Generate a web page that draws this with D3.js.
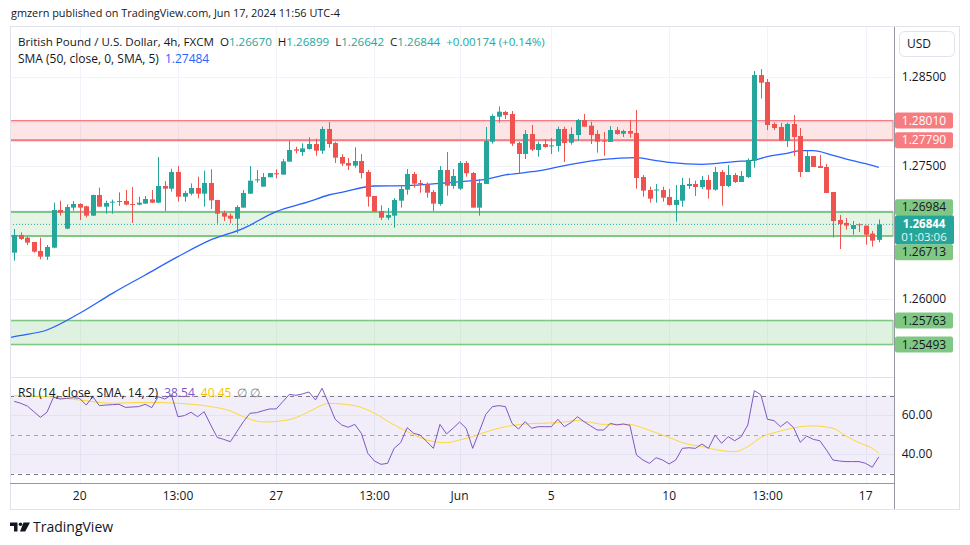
<!DOCTYPE html>
<html>
<head>
<meta charset="utf-8">
<script src="https://cdn.jsdelivr.net/npm/d3@7"></script>
<style>
  body { margin: 0; background: #fff; }
  svg { display: block; font-family: "Open Sans", "Noto Sans", sans-serif; }
</style>
</head>
<body>
<svg id="chart" width="970" height="545"></svg>
<script>
// GBPUSD 4h candles
const opens = [
  1.26526,1.26725,1.26695,1.26646,1.26545,1.26481,1.26582,1.27006,1.26796,1.27032,
  1.27073,1.27047,1.26942,1.27174,1.27043,1.27088,1.27099,1.27107,1.27073,1.27066,
  1.27077,1.27125,1.27088,1.27275,1.27245,1.27433,1.27155,1.27189,1.27253,1.27189,
  1.27309,1.27118,1.26972,1.26942,1.26908,1.27032,1.27189,1.27343,1.27268,1.27373,
  1.27418,1.27403,1.27549,1.27687,1.27657,1.27691,1.27747,1.27672,1.27916,1.27758,
  1.27601,1.27534,1.27504,1.27556,1.27433,1.27163,1.26994,1.26919,1.26942,1.27110,
  1.27234,1.27410,1.27309,1.27298,1.27208,1.27073,1.27455,1.27275,1.27245,1.27534,
  1.27421,1.27032,1.27298,1.27773,1.28054,1.28107,1.28084,1.27758,1.27635,1.27860,
  1.27680,1.27747,1.27725,1.27725,1.27916,1.27762,1.27848,1.28017,1.27953,1.27860,
  1.27785,1.27770,1.27904,1.27863,1.27893,1.27871,1.27376,1.27230,1.27230,1.27230,
  1.27152,1.27062,1.27110,1.27275,1.27298,1.27264,1.27343,1.27234,1.27433,1.27275,
  1.27399,1.27320,1.27376,1.27560,1.28522,1.28444,1.27972,1.27938,1.27781,1.27972,
  1.27837,1.27433,1.27612,1.27500,1.27489,1.27208,1.26893,1.26860,1.26792,1.26845,
  1.26830,1.26740,1.26670
];
const highs = [
  1.26792,1.26755,1.26706,1.26646,1.26695,1.26612,1.27088,1.27110,1.27069,1.27107,
  1.27081,1.27054,1.27178,1.27257,1.27110,1.27122,1.27204,1.27230,1.27264,1.27155,
  1.27163,1.27230,1.27601,1.27331,1.27470,1.27500,1.27219,1.27305,1.27380,1.27448,
  1.27463,1.27118,1.26998,1.26968,1.27058,1.27230,1.27500,1.27455,1.27421,1.27421,
  1.27463,1.27579,1.27781,1.27717,1.27755,1.27822,1.27807,1.27942,1.27994,1.27773,
  1.27631,1.27590,1.27710,1.27635,1.27455,1.27163,1.27058,1.27028,1.27140,1.27275,
  1.27466,1.27433,1.27343,1.27316,1.27230,1.27500,1.27657,1.27466,1.27556,1.27556,
  1.27433,1.27354,1.27938,1.28081,1.28170,1.28118,1.28118,1.27773,1.27904,1.27961,
  1.27773,1.27803,1.27815,1.27942,1.27942,1.27934,1.28028,1.28084,1.27998,1.27904,
  1.27882,1.27949,1.27938,1.27908,1.28017,1.28129,1.27399,1.27268,1.27298,1.27268,
  1.27242,1.27287,1.27365,1.27365,1.27335,1.27388,1.27399,1.27489,1.27455,1.27511,
  1.27421,1.27444,1.27586,1.28567,1.28590,1.28478,1.27991,1.27983,1.27987,1.28073,
  1.27927,1.27669,1.27612,1.27624,1.27522,1.27208,1.26949,1.26916,1.26882,1.26856,
  1.26830,1.26770,1.26899
];
const lows = [
  1.26436,1.26669,1.26612,1.26526,1.26451,1.26444,1.26575,1.26942,1.26790,1.26998,
  1.26893,1.26923,1.26938,1.27040,1.26964,1.26964,1.27051,1.27058,1.26860,1.27058,
  1.27073,1.27085,1.27081,1.26994,1.27212,1.27099,1.27099,1.27170,1.27137,1.27043,
  1.27017,1.26852,1.26882,1.26856,1.26743,1.27032,1.27189,1.27313,1.27268,1.27373,
  1.27361,1.27403,1.27549,1.27642,1.27612,1.27684,1.27616,1.27635,1.27706,1.27534,
  1.27500,1.27455,1.27481,1.27361,1.27043,1.26987,1.26893,1.26893,1.26807,1.27032,
  1.27178,1.27257,1.27200,1.27144,1.26994,1.27054,1.27167,1.27245,1.27230,1.27380,
  1.27032,1.26942,1.27298,1.27751,1.27987,1.28028,1.27725,1.27418,1.27579,1.27669,
  1.27605,1.27706,1.27635,1.27661,1.27545,1.27740,1.27785,1.27942,1.27747,1.27650,
  1.27616,1.27770,1.27852,1.27826,1.27818,1.27245,1.27155,1.27088,1.27088,1.27099,
  1.27054,1.26875,1.27043,1.27242,1.27163,1.27242,1.27133,1.27223,1.27054,1.27264,
  1.27309,1.27320,1.27365,1.27481,1.28257,1.27904,1.27904,1.27785,1.27713,1.27612,
  1.27376,1.27433,1.27489,1.27478,1.27197,1.26695,1.26567,1.26785,1.26728,1.26758,
  1.26616,1.26594,1.26642
];
const closes = [
  1.26725,1.26680,1.26639,1.26537,1.26481,1.26590,1.27006,1.26976,1.27039,1.27073,
  1.27032,1.26942,1.27174,1.27043,1.27084,1.27099,1.27107,1.27066,1.27066,1.27088,
  1.27129,1.27088,1.27275,1.27245,1.27433,1.27155,1.27197,1.27253,1.27189,1.27309,
  1.27114,1.26964,1.26931,1.26908,1.27039,1.27197,1.27335,1.27350,1.27376,1.27421,
  1.27406,1.27552,1.27680,1.27672,1.27698,1.27747,1.27672,1.27916,1.27747,1.27594,
  1.27526,1.27504,1.27556,1.27421,1.27155,1.26987,1.26919,1.26949,1.27118,1.27242,
  1.27410,1.27301,1.27298,1.27200,1.27077,1.27455,1.27279,1.27388,1.27534,1.27418,
  1.27032,1.27309,1.27781,1.28062,1.28110,1.28073,1.27751,1.27635,1.27860,1.27684,
  1.27747,1.27713,1.27732,1.27916,1.27758,1.27860,1.28017,1.27942,1.27848,1.27773,
  1.27778,1.27904,1.27860,1.27893,1.27863,1.27365,1.27223,1.27133,1.27236,1.27144,
  1.27062,1.27118,1.27287,1.27298,1.27264,1.27343,1.27234,1.27433,1.27275,1.27399,
  1.27320,1.27388,1.27567,1.28522,1.28436,1.27961,1.27927,1.27785,1.27972,1.27826,
  1.27433,1.27612,1.27489,1.27478,1.27197,1.26882,1.26848,1.26830,1.26837,1.26837,
  1.26728,1.26661,1.26844
];

// SMA(50) read at a number of candles
const smaIdx  = [-1,0,5,10,15,20,25,30,35,40,45,48,50,55,60,65,70,72,75,80,85,90,95,98,100,105,110,113,115,118,120,122,125,128,130,132];
const smaVals = [1.25564,1.25582,1.25657,1.25845,1.26069,1.26275,1.26481,1.26669,1.26800,1.26987,1.27099,1.27174,1.27204,1.27275,1.27279,1.27305,1.27335,1.27350,1.27399,1.27444,1.27519,1.27575,1.27594,1.27560,1.27541,1.27519,1.27549,1.27567,1.27605,1.27642,1.27672,1.27672,1.27620,1.27560,1.27526,1.27484];

// RSI(14), one value per candle
const rsiVals = [
  67.0,66.0,64.6,61.7,58.8,61.4,69.1,68.2,68.5,68.9,
  68.5,65.1,69.4,64.8,65.1,65.3,65.5,63.9,64.1,64.3,
  65.5,63.8,69.4,68.2,70.3,59.1,59.7,61.4,59.1,61.7,
  54.9,48.5,47.5,46.3,51.5,56.6,60.9,61.2,62.2,63.1,
  63.1,66.8,70.6,70.1,70.8,71.8,67.7,73.7,66.0,57.8,
  54.9,53.7,55.2,50.6,40.3,36.4,34.7,35.2,42.9,45.8,
  53.5,50.6,49.7,46.3,42.9,55.2,50.3,53.2,56.4,53.2,
  42.9,51.5,60.3,64.3,64.8,64.3,55.7,52.8,56.6,53.2,
  54.0,54.0,54.0,57.8,54.0,56.1,59.1,56.6,54.4,52.3,
  52.3,55.7,54.9,55.4,54.7,39.5,36.9,35.2,38.1,36.9,
  34.9,36.9,42.9,43.2,42.9,45.1,42.9,49.7,45.5,48.9,
  46.8,48.9,54.9,72.5,70.3,57.8,57.1,54.0,56.6,53.5,
  46.0,49.2,47.5,46.8,42.1,36.9,36.4,36.1,36.1,36.1,
  35.2,33.2,38.54
];
// RSI-based SMA(14) read at a number of candles
const rsiMaIdx  = [0,5,10,15,20,25,30,33,35,38,40,43,45,47,48,50,53,55,58,60,63,66,68,70,71,73,75,78,80,83,86,88,90,94,95,98,100,102,105,108,110,112,114,116,118,120,122,125,127,129,131,132];
const rsiMaVals = [69.9,69.4,67.7,66.0,66.5,66.0,64.3,62.1,59.1,56.4,56.7,58.6,61.7,65.0,66.0,65.6,63.9,60.9,54.9,51.5,47.2,45.8,47.2,48.9,50.1,52.3,54.0,55.4,55.7,56.1,57.1,56.2,55.2,55.2,54.4,50.9,48.5,45.8,43.8,41.7,41.2,43.8,48.5,50.9,52.6,54.0,54.4,53.2,49.2,45.8,42.9,40.45];

// support / resistance zones [top, bottom]
const zoneRed    = [1.28010, 1.27790];
const zoneGreen  = [1.26984, 1.26713];
const zoneGreen2 = [1.25763, 1.25493];
const lastPrice = 1.26844;
const smaLast = 1.27484;

const xTickIdx    = [10, 25, 40, 55, 68, 82, 100, 115, 130];
const xTickLabels = ["20", "13:00", "27", "13:00", "Jun", "5", "10", "13:00", "17"];
const priceTicks = [1.255, 1.26, 1.265, 1.27, 1.275, 1.28, 1.285];
const rsiTicks = [60, 40];

const UP = "#26a69a", DOWN = "#ef5350";
const paneL = 10, paneR = 894, frameR = 960;
const mainTop = 27, mainBot = 377, rsiBot = 483, frameBot = 509;

const svg = d3.select("#chart");

const x = d3.scaleLinear().domain([0, 132]).range([14.2, 878.8]);
const y = d3.scaleLinear().domain([1.25140, 1.29062]).range([376, 27]);
const yr = d3.scaleLinear().domain([30, 70]).range([473.5, 395.5]);

let defs = svg.append("defs");
defs.append("clipPath").attr("id", "clipMain")
  .append("rect").attr("x", paneL).attr("y", mainTop).attr("width", paneR - paneL).attr("height", mainBot - mainTop);
defs.append("clipPath").attr("id", "clipRsi")
  .append("rect").attr("x", paneL).attr("y", mainBot).attr("width", paneR - paneL).attr("height", rsiBot - mainBot);

// header
svg.append("text").attr("x", 11).attr("y", 17)
  .attr("font-size", 10.9).attr("fill", "#131722")
  .text("gmzern published on TradingView.com, Jun 17, 2024 11:56 UTC-4");

// grid
let grid = svg.append("g").attr("stroke", "#f0f3fa").attr("stroke-width", 1);
grid.selectAll("line.v").data(xTickIdx).enter().append("line")
  .attr("x1", d => Math.round(x(d)) + 0.5).attr("x2", d => Math.round(x(d)) + 0.5)
  .attr("y1", mainTop).attr("y2", rsiBot);
grid.selectAll("line.h").data(priceTicks).enter().append("line")
  .attr("x1", paneL).attr("x2", paneR)
  .attr("y1", d => Math.round(y(d)) + 0.5).attr("y2", d => Math.round(y(d)) + 0.5);
grid.selectAll("line.r").data(rsiTicks).enter().append("line")
  .attr("x1", paneL).attr("x2", paneR)
  .attr("y1", d => Math.round(yr(d)) + 0.5).attr("y2", d => Math.round(yr(d)) + 0.5);

// zones
let main = svg.append("g").attr("clip-path", "url(#clipMain)");
function zone(z, fill, op, wTop, wBot, stroke){
  main.append("rect")
    .attr("x", paneL - 5).attr("width", paneR - paneL + 4)
    .attr("y", y(z[0])).attr("height", y(z[1]) - y(z[0]))
    .attr("fill", fill).attr("fill-opacity", op)
    .attr("stroke", stroke).attr("stroke-width", 1);
  main.append("line").attr("x1", paneL).attr("x2", paneR - 1)
    .attr("y1", y(z[0])).attr("y2", y(z[0])).attr("stroke", stroke).attr("stroke-width", wTop);
  main.append("line").attr("x1", paneL).attr("x2", paneR - 1)
    .attr("y1", y(z[1])).attr("y2", y(z[1])).attr("stroke", stroke).attr("stroke-width", wBot);
}
zone(zoneRed, "#f77c80", 0.2, 1.2, 2, "#f77c80");
zone(zoneGreen, "#81c784", 0.2, 2, 2, "#81c784");
zone(zoneGreen2, "#81c784", 0.25, 1.5, 1.5, "#81c784");

// last price dotted line
main.append("line").attr("x1", paneL).attr("x2", paneR)
  .attr("y1", y(lastPrice)).attr("y2", y(lastPrice))
  .attr("stroke", UP).attr("stroke-width", 1).attr("stroke-dasharray", "1,2");

// SMA
const smaLine = d3.line().curve(d3.curveMonotoneX)
  .x((d, i) => x(smaIdx[i])).y(d => y(d));
main.append("path").attr("d", smaLine(smaVals))
  .attr("fill", "none").attr("stroke", "#2962ff").attr("stroke-width", 1.3);

// candles
const idx = d3.range(opens.length);
let candles = main.append("g").selectAll("g").data(idx).enter().append("g")
  .attr("fill", i => closes[i] >= opens[i] ? UP : DOWN)
  .attr("stroke", i => closes[i] >= opens[i] ? UP : DOWN);
candles.append("line")
  .attr("x1", i => Math.round(x(i)) + 0.5).attr("x2", i => Math.round(x(i)) + 0.5)
  .attr("y1", i => y(highs[i])).attr("y2", i => y(lows[i]))
  .attr("stroke-width", 1);
candles.append("rect")
  .attr("stroke", "none")
  .attr("x", i => Math.round(x(i)) + 0.5 - 2.5).attr("width", 5)
  .attr("y", i => y(Math.max(opens[i], closes[i])))
  .attr("height", i => Math.max(1, y(Math.min(opens[i], closes[i])) - y(Math.max(opens[i], closes[i]))));

// RSI pane
let rsi = svg.append("g").attr("clip-path", "url(#clipRsi)");
rsi.append("rect").attr("x", paneL).attr("width", paneR - paneL)
  .attr("y", yr(70)).attr("height", yr(30) - yr(70))
  .attr("fill", "#7e57c2").attr("fill-opacity", 0.1);
rsi.selectAll("line.band").data([70, 50, 30]).enter().append("line")
  .attr("x1", paneL).attr("x2", paneR)
  .attr("y1", d => Math.round(yr(d)) + 0.5).attr("y2", d => Math.round(yr(d)) + 0.5)
  .attr("stroke", d => d == 50 ? "#a3a6af" : "#787b86")
  .attr("stroke-dasharray", "4,4");
rsi.append("path")
  .attr("d", d3.line().curve(d3.curveMonotoneX).x((d, i) => x(rsiMaIdx[i])).y(d => yr(d))(rsiMaVals))
  .attr("fill", "none").attr("stroke", "#fdd835").attr("stroke-width", 1);
rsi.append("path")
  .attr("d", d3.line().x((d, i) => x(i)).y(d => yr(d))(rsiVals))
  .attr("fill", "none").attr("stroke", "#7e57c2").attr("stroke-width", 1);

// legends
let lg = svg.append("text").attr("x", 18).attr("y", 46).attr("font-size", 11.6).attr("fill", "#131722");
lg.append("tspan").text("British Pound / U.S. Dollar, 4h, FXCM");
const ohlcLast = [["O", opens[132]], ["H", highs[132]], ["L", lows[132]], ["C", closes[132]]];
ohlcLast.forEach(function(p, k){
  lg.append("tspan").attr("dx", 6).text(p[0]);
  lg.append("tspan").attr("fill", UP).text(d3.format(".5f")(p[1]));
});
const chg = closes[132] - opens[132];
lg.append("tspan").attr("dx", 6).attr("fill", UP)
  .text("+" + d3.format(".5f")(chg) + " (+" + d3.format(".2f")(chg / opens[132] * 100) + "%)");

let lg2 = svg.append("text").attr("x", 18).attr("y", 63).attr("font-size", 12).attr("fill", "#131722");
lg2.append("tspan").text("SMA (50, close, 0, SMA, 5)");
lg2.append("tspan").attr("dx", 6).attr("fill", "#2962ff").text(d3.format(".5f")(smaLast));

let lg3 = svg.append("text").attr("x", 18).attr("y", 397).attr("font-size", 12).attr("fill", "#131722");
lg3.append("tspan").text("RSI (14, close, SMA, 14, 2)");
lg3.append("tspan").attr("dx", 6).attr("fill", "#7e57c2").text(d3.format(".2f")(rsiVals[132]));
lg3.append("tspan").attr("dx", 6).attr("fill", "#f5c400").text(d3.format(".2f")(rsiMaVals[rsiMaVals.length - 1]));
lg3.append("tspan").attr("dx", 6).attr("fill", "#787b86").text("\u2205  \u2205");

// frame
let frame = svg.append("g").attr("fill", "none");
frame.append("rect").attr("x", paneL + 0.5).attr("y", 26.5).attr("width", frameR - paneL - 1).attr("height", frameBot - 26)
  .attr("stroke", "#e0e3eb");
frame.append("line").attr("x1", paneL).attr("x2", paneR).attr("y1", mainBot + 0.5).attr("y2", mainBot + 0.5)
  .attr("stroke", "#e0e3eb");
frame.append("line").attr("x1", paneR + 0.5).attr("x2", paneR + 0.5).attr("y1", 27).attr("y2", frameBot)
  .attr("stroke", "#9598a1");
frame.append("line").attr("x1", paneL).attr("x2", paneR).attr("y1", rsiBot + 0.5).attr("y2", rsiBot + 0.5)
  .attr("stroke", "#9598a1");

// x axis labels
svg.append("g").selectAll("text").data(xTickIdx).enter().append("text")
  .attr("x", d => x(d)).attr("y", 500)
  .attr("text-anchor", "middle").attr("font-size", 12).attr("fill", "#131722")
  .text((d, i) => xTickLabels[i]);

// price axis: colored labels, current price box on top
const cy = y(lastPrice);
const curTop = cy - 9, curBot = cy + 20;
const tags = [
  {v: zoneRed[0], bg: "#f77c80", fg: "#ffffff"},
  {v: zoneRed[1], bg: "#f77c80", fg: "#ffffff"},
  {v: zoneGreen[0], bg: "#81c784", fg: "#131722"},
  {v: zoneGreen[1], bg: "#81c784", fg: "#131722"},
  {v: zoneGreen2[0], bg: "#81c784", fg: "#131722"},
  {v: zoneGreen2[1], bg: "#81c784", fg: "#131722"}
];
tags.forEach(function(t){
  let c = y(t.v);
  if (c < cy && c + 8 > curTop) c = curTop - 8;
  if (c > cy && c - 8 < curBot) c = curBot + 8;
  t.c = c;
});

let axis = svg.append("g").attr("font-size", 12);
axis.selectAll("text.tick").data(priceTicks.filter(function(p){
    return tags.every(t => Math.abs(t.c - y(p)) > 13) && Math.abs(y(p) - (curTop + curBot) / 2) > 20;
  })).enter().append("text")
  .attr("x", 924).attr("y", d => y(d) + 4).attr("text-anchor", "middle").attr("fill", "#131722")
  .text(d => d3.format(".5f")(d));
axis.selectAll("text.rt").data(rsiTicks).enter().append("text")
  .attr("x", 917).attr("y", d => yr(d) + 4).attr("text-anchor", "middle").attr("fill", "#131722")
  .text(d => d3.format(".2f")(d));

let tg = axis.selectAll("g.tag").data(tags).enter().append("g");
tg.append("rect").attr("x", paneR + 1).attr("width", 58).attr("y", d => d.c - 8).attr("height", 16)
  .attr("rx", 2).attr("fill", d => d.bg);
tg.append("text").attr("x", 924).attr("y", d => d.c + 4).attr("text-anchor", "middle")
  .attr("fill", d => d.fg).text(d => d3.format(".5f")(d.v));

axis.append("rect").attr("x", paneR + 1).attr("width", 59).attr("y", curTop).attr("height", curBot - curTop)
  .attr("rx", 2).attr("fill", UP);
axis.append("text").attr("x", 924).attr("y", cy + 3.5).attr("text-anchor", "middle").attr("fill", "#fff")
  .attr("font-size", 11.5).attr("font-weight", "bold").text(d3.format(".5f")(lastPrice));
axis.append("text").attr("x", 924).attr("y", cy + 17).attr("text-anchor", "middle").attr("fill", "#e6f5f3")
  .attr("font-size", 11.5).text("01:03:06");

// currency button
axis.append("rect").attr("x", 899.5).attr("y", 31.5).attr("width", 55).attr("height", 25).attr("rx", 5)
  .attr("fill", "#fff").attr("stroke", "#e0e3eb");
axis.append("text").attr("x", 907).attr("y", 48).attr("fill", "#131722").text("USD");

// footer logo
let logo = svg.append("g").attr("fill", "#131722");
logo.append("path").attr("d", "M10 522.5 h7.5 v9 h-3.5 v-5.5 h-4 z");
logo.append("circle").attr("cx", 20.5).attr("cy", 524.2).attr("r", 1.8);
logo.append("path").attr("d", "M23.5 522.5 h6.5 l-4.8 9 h-5.2 z");
svg.append("text").attr("x", 33).attr("y", 532).attr("font-size", 14).attr("fill", "#131722")
  .text("TradingView");
</script>
</body>
</html>
